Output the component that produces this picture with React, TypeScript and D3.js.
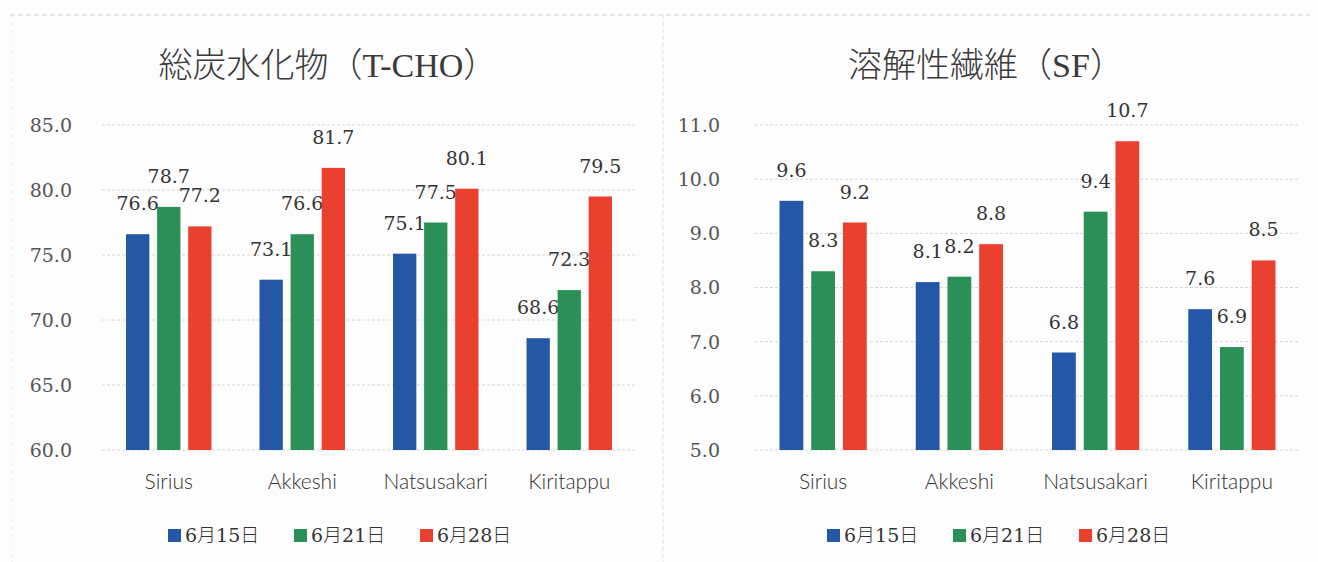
import React from "react";
import * as d3 from "d3";

const categories = ["Sirius", "Akkeshi", "Natsusakari", "Kiritappu"];
const seriesNames = ["6月15日", "6月21日", "6月28日"];
const seriesColors = ["#2458a6", "#2b9058", "#e9402f"];

const tchoJun15 = [76.6, 73.1, 75.1, 68.6];
const tchoJun21 = [78.7, 76.6, 77.5, 72.3];
const tchoJun28 = [77.2, 81.7, 80.1, 79.5];
const tchoTicks = [60, 65, 70, 75, 80, 85];

const sfJun15 = [9.6, 8.1, 6.8, 7.6];
const sfJun21 = [8.3, 8.2, 9.4, 6.9];
const sfJun28 = [9.2, 8.8, 10.7, 8.5];
const sfTicks = [5, 6, 7, 8, 9, 10, 11];

const W = 1318;
const H = 562;

const NUM_FONT = "'DejaVu Serif', 'Liberation Serif', serif";
const LEGEND_FONT = "'DejaVu Serif', 'Noto Sans CJK JP', serif";
const TITLE_FONT = "'Liberation Serif', 'Noto Sans CJK JP', serif";
const CAT_FONT = "Lato, 'Open Sans', sans-serif";

type ChartProps = {
  title: string;
  titleX: number;
  series: number[][];
  ticks: number[];
  x0: number;
  x1: number;
  labelRight: number;
  legendX: number;
};

function Chart({ title, titleX, series, ticks, x0, x1, labelRight, legendX }: ChartProps) {
  const yTop = 125;
  const yBottom = 450;
  const y = d3
    .scaleLinear()
    .domain([d3.min(ticks) as number, d3.max(ticks) as number])
    .range([yBottom, yTop]);
  const x = d3.scaleBand().domain(categories).range([x0, x1]);
  const inner = d3
    .scaleBand()
    .domain(seriesNames)
    .range([0, x.bandwidth() * 0.64])
    .paddingInner(0.25);
  const groupOffset = (x.bandwidth() - x.bandwidth() * 0.64) / 2;

  return (
    <g>
      <text
        x={titleX}
        y={77}
        textAnchor="middle"
        fontFamily={TITLE_FONT}
        fontSize={34}
        fill="#3a3a3a"
        fontWeight={300}
      >
        {title}
      </text>
      {ticks.map((t) => (
        <g key={t}>
          <line
            x1={x0}
            x2={x1}
            y1={y(t)}
            y2={y(t)}
            stroke="#d6d6d6"
            strokeWidth={1}
            strokeDasharray="3,2"
          />
          <text
            x={labelRight}
            y={y(t)}
            dy="0.36em"
            textAnchor="end"
            fontFamily={NUM_FONT}
            fontSize={19}
            fontWeight={300}
            fill="#555"
          >
            {t.toFixed(1)}
          </text>
        </g>
      ))}
      {categories.map((c, ci) => (
        <g key={c}>
          {series.map((vals, si) => {
            const bx = (x(c) as number) + groupOffset + (inner(seriesNames[si]) as number);
            const bw = inner.bandwidth();
            const top = y(vals[ci]);
            return (
              <g key={si}>
                <rect
                  x={bx}
                  y={top}
                  width={bw}
                  height={yBottom - top}
                  fill={seriesColors[si]}
                />
                <text
                  x={bx + bw / 2}
                  y={top - 24}
                  textAnchor="middle"
                  fontFamily={NUM_FONT}
                  fontSize={19}
                  fontWeight={300}
                  fill="#333"
                >
                  {vals[ci].toFixed(1)}
                </text>
              </g>
            );
          })}
          <text
            x={(x(c) as number) + x.bandwidth() / 2}
            y={489}
            textAnchor="middle"
            fontFamily={CAT_FONT}
            fontSize={21}
            fontWeight={300}
            fill="#333"
          >
            {c}
          </text>
        </g>
      ))}
      {seriesNames.map((n, i) => (
        <g key={n} transform={`translate(${legendX + i * 126},0)`}>
          <rect x={0} y={529} width={13} height={13} fill={seriesColors[i]} />
          <text
            x={17}
            y={542}
            fontFamily={LEGEND_FONT}
            fontSize={19}
            fontWeight={300}
            fill="#333"
          >
            {n}
          </text>
        </g>
      ))}
    </g>
  );
}

export default function App() {
  return (
    <div style={{ position: "absolute", left: 0, top: 0 }}>
      <svg width={W} height={H} style={{ display: "block", background: "#fdfdfd" }}>
        <rect x={0} y={0} width={W} height={H} fill="#fdfdfd" />
        <line x1={10} x2={1310} y1={15} y2={15} stroke="#d4d4d4" strokeDasharray="5,3" />
        <line x1={663} x2={663} y1={15} y2={H} stroke="#e2e2e2" strokeDasharray="4,3" />
        <line x1={12} x2={12} y1={15} y2={H} stroke="#ececec" strokeDasharray="4,3" />
        <Chart
          title="総炭水化物（T-CHO）"
          titleX={328}
          series={[tchoJun15, tchoJun21, tchoJun28]}
          ticks={tchoTicks}
          x0={102}
          x1={636}
          labelRight={72}
          legendX={168}
        />
        <Chart
          title="溶解性繊維（SF）"
          titleX={986}
          series={[sfJun15, sfJun21, sfJun28]}
          ticks={sfTicks}
          x0={755}
          x1={1300}
          labelRight={720}
          legendX={827}
        />
      </svg>
    </div>
  );
}
